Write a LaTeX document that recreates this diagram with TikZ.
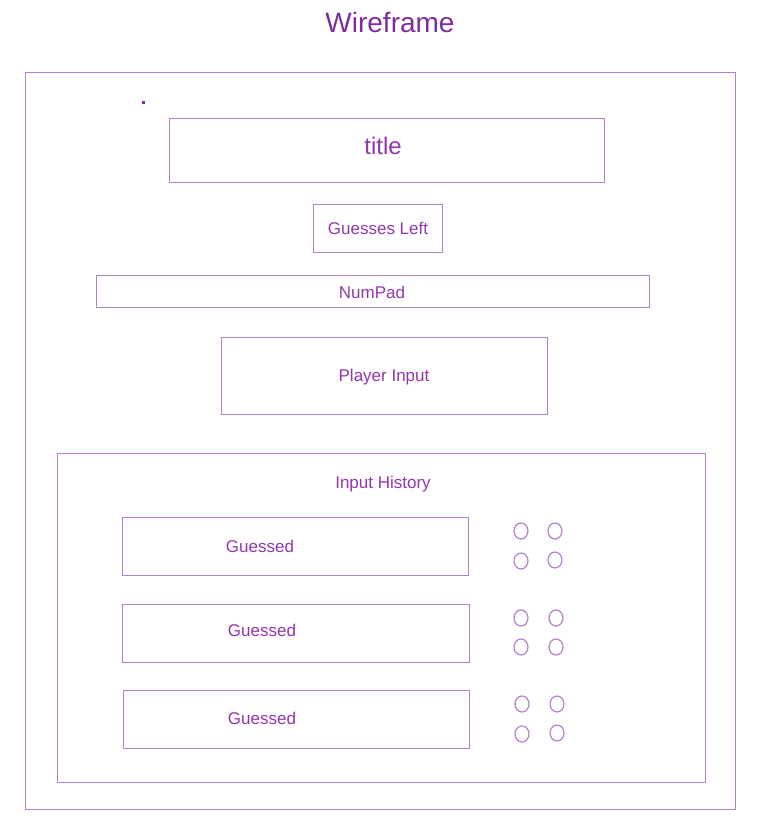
\documentclass[tikz,border=0pt]{standalone}
\usepackage{fontspec}
\usetikzlibrary{shapes.geometric}
\setmainfont{Liberation Sans}
\definecolor{boxc}{HTML}{B47FCC}
\definecolor{txtc}{HTML}{9435AE}
\definecolor{headc}{HTML}{7E2C9F}
\begin{document}
\begin{tikzpicture}[x=1pt,y=-1pt,
  box/.style={draw=boxc,line width=1.2pt,rectangle,inner sep=0pt,anchor=north west},
  lbl/.style={text=txtc,font=\fontsize{17}{20}\selectfont,inner sep=0pt},
  ring/.style={draw=boxc,line width=1.2pt,ellipse,minimum width=14pt,minimum height=16pt,inner sep=0pt}
]
\useasboundingbox (0,0) rectangle (758,825);
\node[text=headc,font=\fontsize{28}{32}\selectfont] (head) at (390,22) {Wireframe};
\node[box,minimum width=710pt,minimum height=737pt] (outer) at (25,72) {};
\fill[headc] (142,101) rectangle (144.5,103.5) coordinate (dot);
\node[box,minimum width=435pt,minimum height=64pt] (titlebox) at (169,118) {};
\node[lbl,font=\fontsize{24}{28}\selectfont] (titletxt) at (383,146) {title};
\node[box,minimum width=129pt,minimum height=48pt] (gl) at (313,204) {};
\node[lbl] (gltxt) at (378,228) {Guesses Left};
\node[box,minimum width=553pt,minimum height=32pt] (np) at (96,275) {};
\node[lbl] (nptxt) at (372,292) {NumPad};
\node[box,minimum width=326pt,minimum height=77pt] (pi) at (221,337) {};
\node[lbl] (pitxt) at (384,377) {Player Input};
\node[box,minimum width=648pt,minimum height=329pt] (ih) at (57,453) {};
\node[lbl] (ihtxt) at (383,484) {Input History};
\node[box,minimum width=346pt,minimum height=58pt] (g1) at (122,517) {};
\node[lbl] (g1txt) at (260,546) {Guessed};
\node[box,minimum width=347pt,minimum height=58pt] (g2) at (122,604) {};
\node[lbl] (g2txt) at (262,630) {Guessed};
\node[box,minimum width=346pt,minimum height=58pt] (g3) at (123,690) {};
\node[lbl] (g3txt) at (262,718) {Guessed};
\node[ring] (c11) at (521,531) {};
\node[ring] (c12) at (555,531) {};
\node[ring] (c13) at (521,561) {};
\node[ring] (c14) at (555,560) {};
\node[ring] (c21) at (521,618) {};
\node[ring] (c22) at (556,618) {};
\node[ring] (c23) at (521,647) {};
\node[ring] (c24) at (556,647) {};
\node[ring] (c31) at (522,704) {};
\node[ring] (c32) at (557,704) {};
\node[ring] (c33) at (522,734) {};
\node[ring] (c34) at (557,733) {};
\end{tikzpicture}
\end{document}
